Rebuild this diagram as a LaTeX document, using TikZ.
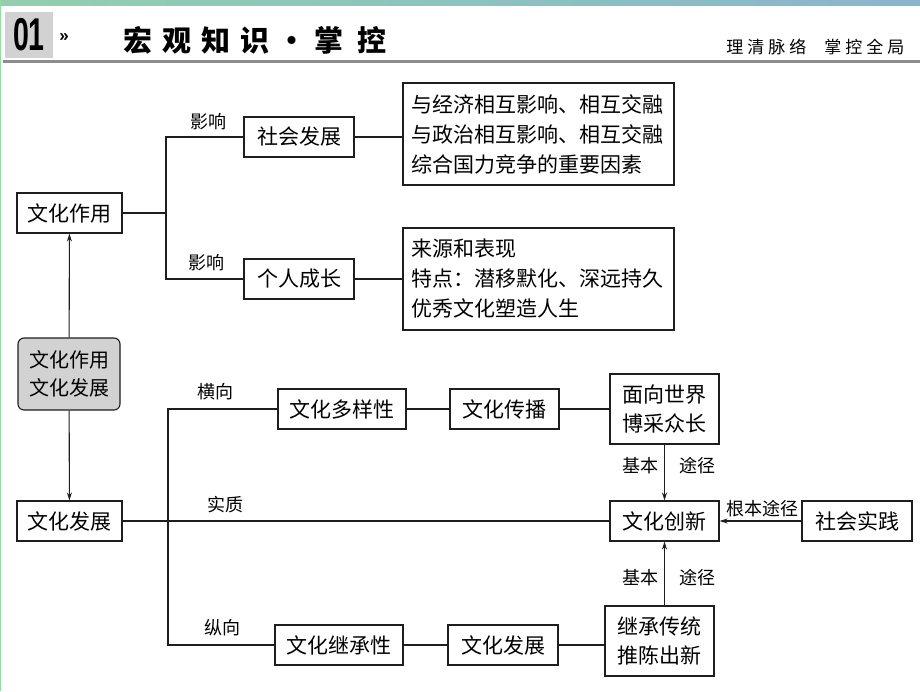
\documentclass[tikz,border=0pt]{standalone}
\usepackage{fontspec}
\setmainfont{Noto Sans CJK SC}
\newfontfamily\latinsans{Liberation Sans}
\usetikzlibrary{arrows.meta}
\definecolor{lineink}{HTML}{1E1E1E}
\definecolor{hubgray}{HTML}{D2D2D2}
\definecolor{bandleft}{RGB}{150,205,175}
\definecolor{bandright}{RGB}{140,180,205}
\definecolor{rulegray}{HTML}{8C8C8C}
\definecolor{edgegreen}{RGB}{150,220,160}
\newcommand{\sizept}[1]{\fontsize{#1}{#1}\selectfont}

\begin{document}
\begin{tikzpicture}[x=1pt, y=-1pt,
	box/.style={draw=lineink, line width=1.1pt, inner sep=0pt, minimum height=40pt, font=\sizept{21}},
	twoline/.style={box, minimum height=70pt, align=center, font=\fontsize{21}{29}\selectfont},
	notebox/.style={draw=lineink, line width=1.1pt, inner sep=8pt, text width=255pt, minimum height=102pt, align=left, font=\fontsize{21}{30}\selectfont},
	tag/.style={font=\sizept{18}, inner sep=0pt},
	link/.style={draw=lineink, line width=1.1pt},
	arr/.style={link, -{Stealth[length=8pt, width=5pt]}}]
	\useasboundingbox (0,0) rectangle (920,691);
	
	% header
	\shade[left color=bandleft, right color=bandright] (0,0) rectangle (920,5);
	\draw[edgegreen, line width=1pt] (0.5,0) -- (0.5,691);
	\fill[gray!35] (5,12) rectangle (53,58);
	\node (num) at (29,35) {\fontsize{46}{46}\latinsans\bfseries\scalebox{0.62}[1]{01}};
	\node (chev) at (64,38) {\sizept{17}\latinsans\bfseries »};
	\node[anchor=west, font=\sizept{29}\bfseries] (title) at (120,40) {宏\hspace{10pt}观\hspace{10pt}知\hspace{10pt}识\hspace{8pt}·\hspace{8pt}掌\hspace{14pt}控};
	\node[anchor=east, font=\sizept{17}] (motto) at (908,47) {理\hspace{4pt}清\hspace{4pt}脉\hspace{4pt}络\hspace{18pt}掌\hspace{4pt}控\hspace{4pt}全\hspace{4pt}局};
	\fill[rulegray] (3,60) rectangle (920,63);
	
	% upper part
	\node[box, minimum width=105pt] (zy) at (69.5,213) {文化作用};
	\node[box, minimum width=110pt] (shfz) at (299,137) {社会发展};
	\node[box, minimum width=110pt] (grcz) at (299,279) {个人成长};
	\node[notebox] (note1) at (538.5,134) {与经济相互影响、相互交融\\与政治相互影响、相互交融\\综合国力竞争的重要因素};
	\node[notebox] (note2) at (538.5,279) {来源和表现\\特点：潜移默化、深远持久\\优秀文化塑造人生};
	\coordinate (fork1) at (166,213);
	\draw[link] (zy) -- (fork1);
	\draw[link] (shfz) -| (fork1) |- (grcz);
	\draw[link] (shfz.east) -- (shfz.east -| note1.west);
	\draw[link] (grcz.east) -- (grcz.east -| note2.west);
	\node[tag] (ef1) at (208,122) {影响};
	\node[tag] (ef2) at (206,263) {影响};
	
	\node[box, fill=hubgray, rounded corners=6pt, minimum width=102pt, minimum height=72pt, align=center, font=\fontsize{20}{28}\selectfont] (hub) at (69,374) {文化作用\\文化发展};
	\node[box, minimum width=105pt] (fz) at (69.5,521) {文化发展};
	\draw[arr] (hub) -- (zy);
	\draw[arr] (hub) -- (fz);
	
	% lower part
	\node[box, minimum width=128pt] (dyx) at (342,409) {文化多样性};
	\node[box, minimum width=109pt] (cb) at (504.5,409) {文化传播};
	\node[twoline, minimum width=109pt] (mx) at (664.5,409) {面向世界\\博采众长};
	\node[box, minimum width=109pt] (cx) at (664.5,521) {文化创新};
	\node[box, minimum width=110pt] (sj) at (857,521) {社会实践};
	\node[box, minimum width=128pt] (jcx) at (339,645) {文化继承性};
	\node[box, minimum width=110pt] (fz2) at (503,645) {文化发展};
	\node[twoline, minimum width=109pt] (jc) at (659.5,641) {继承传统\\推陈出新};
	\coordinate (fork2) at (168,521);
	\draw[link] (fz) -- (cx);
	\draw[link] (dyx) -| (fork2) |- (jcx);
	\draw[link] (dyx) -- (cb);
	\draw[link] (cb) -- (mx);
	\draw[link] (jcx) -- (fz2);
	\draw[link] (fz2.east) -- (fz2.east -| jc.west);
	\draw[arr] (mx) -- (cx);
	\draw[arr] (jc.north -| cx.south) -- (cx.south);
	\draw[arr] (sj) -- (cx);
	\node[tag] (hx) at (215,392) {横向};
	\node[tag] (sz) at (225,505) {实质};
	\node[tag] (zx) at (222,628) {纵向};
	\node[tag] (jb1) at (640,466) {基本};
	\node[tag] (tj1) at (697,466) {途径};
	\node[tag] (jb2) at (640,578) {基本};
	\node[tag] (tj2) at (697,578) {途径};
	\node[tag] (gb) at (762,509) {根本途径};
\end{tikzpicture}
\end{document}
